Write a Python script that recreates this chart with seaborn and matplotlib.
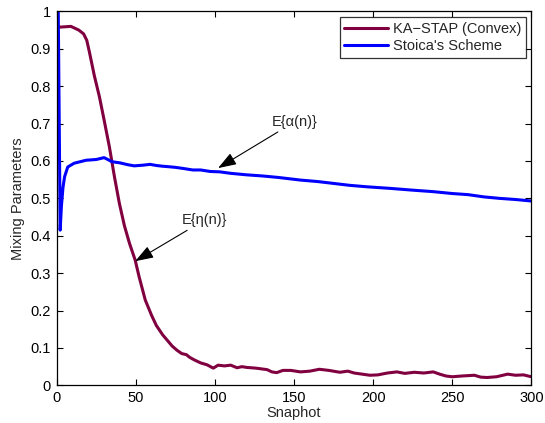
"""Mixing parameters vs snapshot: KA-STAP (convex) against Stoica's scheme."""
import matplotlib
matplotlib.use("Agg")
import matplotlib.pyplot as plt
import matplotlib.ticker as mticker
import pandas as pd
import seaborn as sns

# values
convex_n = [2, 9, 14, 17, 19, 20.6, 23.8, 27, 30, 33.3, 36.5,
            39.6, 42.8, 46, 49.6, 52, 56, 60, 63, 67,
            70, 73, 76, 79, 82, 84, 87, 91, 95, 99,
            102, 106, 110, 114, 117, 120, 126, 133, 136, 139,
            143, 148, 154, 160, 166, 172, 179, 184, 188, 193,
            198, 203, 209, 215, 220, 226, 232, 238, 242, 246,
            250, 256, 264, 268, 272, 278, 285, 290, 295, 300]
convex_val = [0.958, 0.96, 0.95, 0.94, 0.923, 0.893, 0.828, 0.772, 0.709, 0.638, 0.558,
              0.487, 0.427, 0.38, 0.335, 0.292, 0.228, 0.187, 0.16, 0.135,
              0.12, 0.105, 0.094, 0.085, 0.082, 0.075, 0.068, 0.06, 0.055, 0.046,
              0.054, 0.052, 0.054, 0.047, 0.05, 0.048, 0.046, 0.042, 0.036, 0.034,
              0.04, 0.04, 0.036, 0.038, 0.043, 0.04, 0.035, 0.038, 0.033, 0.03,
              0.027, 0.028, 0.033, 0.036, 0.032, 0.035, 0.033, 0.036, 0.03, 0.025,
              0.023, 0.025, 0.027, 0.022, 0.021, 0.023, 0.03, 0.027, 0.028, 0.023]

stoica_n = [1, 2.2, 3, 4, 5, 7, 11, 18.6, 25, 30,
            35, 40, 45, 49, 55,
            59, 63, 67, 70, 75, 80, 86, 91, 97, 103,
            110, 120, 130, 140, 154, 165, 175, 185, 196, 210,
            225, 238, 250, 260, 270, 280, 290, 300]
stoica_val = [1.0, 0.415, 0.48, 0.53, 0.558, 0.584, 0.594, 0.602, 0.604, 0.609,
              0.598, 0.595, 0.59, 0.587, 0.589,
              0.591, 0.588, 0.586, 0.585, 0.583, 0.58, 0.576, 0.576, 0.572, 0.571,
              0.567, 0.563, 0.56, 0.556, 0.549, 0.545, 0.54, 0.535, 0.531, 0.527,
              0.522, 0.518, 0.513, 0.51, 0.504, 0.5, 0.497, 0.493]

labels = ["KA\u2212STAP (Convex)", "Stoica's Scheme"]
colors = ["#800040", "#0000ff"]
x_ticks = [0, 50, 100, 150, 200, 250, 300]
y_ticks = [0, 0.1, 0.2, 0.3, 0.4, 0.5, 0.6, 0.7, 0.8, 0.9, 1]

df = pd.concat([
    pd.DataFrame({"snapshot": convex_n, "value": convex_val, "scheme": labels[0]}),
    pd.DataFrame({"snapshot": stoica_n, "value": stoica_val, "scheme": labels[1]}),
])

sns.set_style("ticks")
plt.rcParams["font.family"] = ["Liberation Sans", "DejaVu Sans"]
FS = 10.5
plt.rcParams["font.size"] = FS

fig = plt.figure(figsize=(5.45, 4.23), dpi=100)
ax = fig.add_axes([0.104, 0.089, 0.871, 0.884])

sns.lineplot(data=df, x="snapshot", y="value", hue="scheme", sort=False,
             palette=dict(zip(labels, colors)), linewidth=2.2, ax=ax,
             estimator=None)

ax.set_xlim(0, 300)
ax.set_ylim(0, 1)
ax.set_xticks(x_ticks)
ax.set_yticks(y_ticks)
ax.yaxis.set_major_formatter(mticker.FormatStrFormatter("%g"))
ax.tick_params(direction="in", length=4, width=0.8, top=True, right=True,
               labelsize=FS, colors="black", pad=4)
for sp in ax.spines.values():
    sp.set_visible(True)
    sp.set_linewidth(0.9)
    sp.set_color("black")
ax.set_xlabel("Snaphot", fontsize=FS, labelpad=1)
ax.set_ylabel("Mixing Parameters", fontsize=FS, labelpad=4)

leg = ax.legend(loc="upper right", frameon=True, fancybox=False, edgecolor="black",
                fontsize=FS, handlelength=3.0, handletextpad=0.35, labelspacing=0.25,
                borderpad=0.3, borderaxespad=0.4)
leg.get_frame().set_linewidth(0.9)
for line in leg.get_lines():
    line.set_linewidth(2.2)

arrow = dict(arrowstyle="-|>,head_length=0.8,head_width=0.28", color="black",
             lw=0.8, mutation_scale=14, shrinkA=0, shrinkB=0)
ax.annotate("E{\u03b1(n)}", xy=(102, 0.581), xytext=(136, 0.705),
            ha="left", va="center", fontsize=FS, arrowprops=arrow)
ax.annotate("E{\u03b7(n)}", xy=(49.6, 0.332), xytext=(79, 0.442),
            ha="left", va="center", fontsize=FS, arrowprops=arrow)

fig.savefig("out.png", dpi=100)
